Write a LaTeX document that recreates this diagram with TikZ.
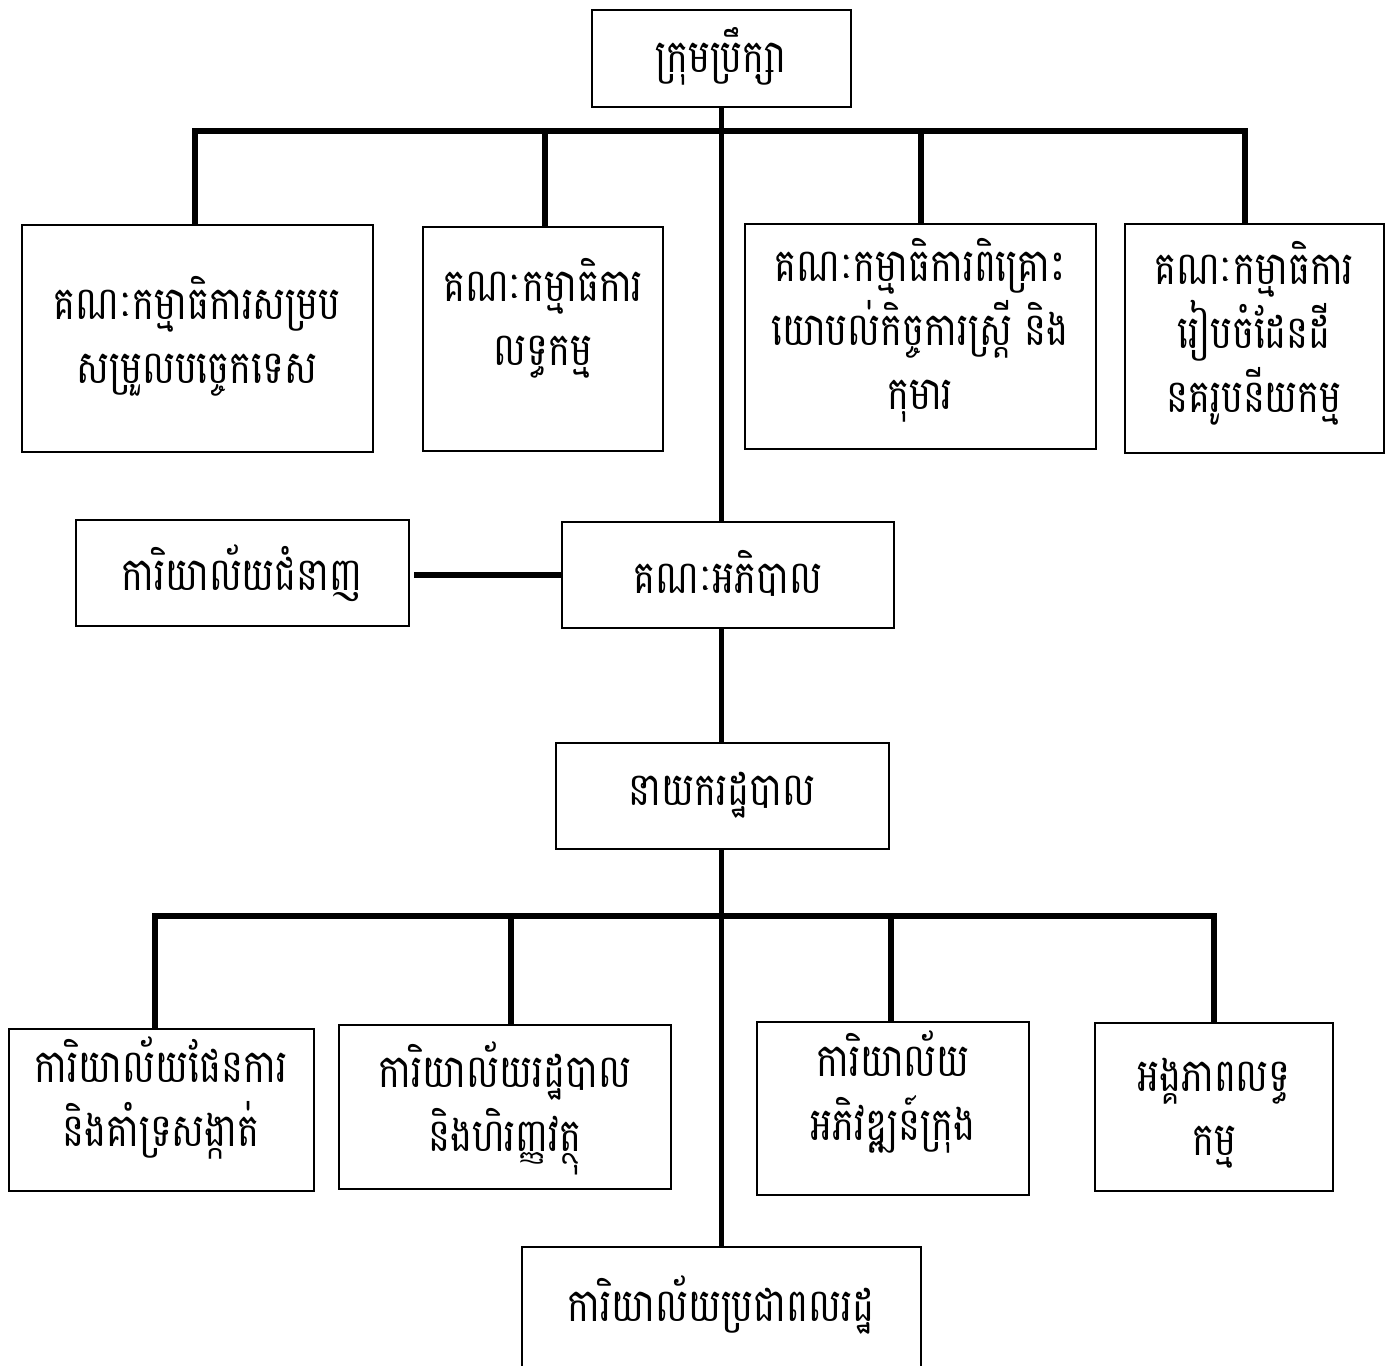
\documentclass[tikz,border=0pt]{standalone}
\usepackage{fontspec}
\newfontfamily\khmer[Script=Khmer,FakeStretch=0.8]{Battambang}
\begin{document}
\begin{tikzpicture}[x=1pt,y=-1pt,
  box/.style={draw=black,line width=1.5pt,rectangle,inner sep=0pt,fill=white},
  lbl/.style={font=\khmer\fontsize{46}{64}\selectfont,align=center,inner sep=0pt},
  conn/.style={draw=black,line width=5.5pt,line join=miter}]
\useasboundingbox (0,0) rectangle (1391,1365);
\clip (0,0) rectangle (1391,1365);
\fill[white] (0,0) rectangle (1391,1365);
\coordinate (tl) at (195,131);
\coordinate (tr) at (1245,131);
\coordinate (tb) at (545,131);
\coordinate (tc) at (921,131);
\coordinate (bl) at (155,916);
\coordinate (br) at (1214,916);
\coordinate (bb) at (511,916);
\coordinate (bc) at (891,916);
% boxes
\node[box,minimum width=259pt,minimum height=97pt] (top) at (721.5,58.5) {};
\node[box,minimum width=351pt,minimum height=227pt] (A) at (197.5,338.5) {};
\node[box,minimum width=240pt,minimum height=224pt] (B) at (543,339) {};
\node[box,minimum width=351pt,minimum height=225pt] (C) at (920.5,336.5) {};
\node[box,minimum width=259pt,minimum height=229pt] (D) at (1254.5,338.5) {};
\node[box,minimum width=333pt,minimum height=106pt] (exp) at (242.5,573) {};
\node[box,minimum width=332pt,minimum height=106pt] (gov) at (728,575) {};
\node[box,minimum width=333pt,minimum height=106pt] (adm) at (722.5,796) {};
\node[box,minimum width=305pt,minimum height=162pt] (E) at (161.5,1110) {};
\node[box,minimum width=332pt,minimum height=164pt] (F) at (505,1107) {};
\node[box,minimum width=272pt,minimum height=173pt] (G) at (893,1108.5) {};
\node[box,minimum width=238pt,minimum height=168pt] (H) at (1214,1107) {};
\node[box,minimum width=399pt,minimum height=153pt] (cit) at (721.5,1323.5) {};
% connectors
\draw[conn] (tl |- A.north) -- (tl) -- (tr) -- (tr |- D.north);
\draw[conn] (tb) -- (tb |- B.north);
\draw[conn] (tc) -- (tc |- C.north);
\draw[conn] (top.south) -- (top.south |- gov.north);
\draw[conn] (gov.west) -- (gov.west -| exp.east) [shorten >=4pt];
\draw[conn] (top.south |- gov.south) -- (top.south |- adm.north);
\draw[conn] (top.south |- adm.south) -- (top.south |- cit.north);
\draw[conn] (bl |- E.north) -- (bl) -- (br) -- (br |- H.north);
\draw[conn] (bb) -- (bb |- F.north);
\draw[conn] (bc) -- (bc |- G.north);
% labels
\node[lbl] (ttop) at (721,56) {ក្រុមប្រឹក្សា};
\node[lbl] (tA) at (197,336) {គណៈកម្មាធិការសម្រប\\សម្រួលបច្ចេកទេស};
\node[lbl] (tB) at (543,318) {គណៈកម្មាធិការ\\លទ្ធកម្ម};
\node[lbl] (tC) at (920,330) {គណៈកម្មាធិការពិគ្រោះ\\យោបល់កិច្ចការស្ត្រី និង\\កុមារ};
\node[lbl] (tD) at (1254,333) {គណៈកម្មាធិការ\\រៀបចំដែនដី\\នគរូបនីយកម្ម};
\node[lbl] (texp) at (242,573) {ការិយាល័យជំនាញ};
\node[lbl] (tgov) at (728,573) {គណៈអភិបាល};
\node[lbl] (tadm) at (722,795) {នាយករដ្ឋបាល};
\node[lbl] (tE) at (161,1098) {ការិយាល័យផែនការ\\និងគាំទ្រសង្កាត់};
\node[lbl] (tF) at (505,1108) {ការិយាល័យរដ្ឋបាល\\និងហិរញ្ញវត្ថុ};
\node[lbl] (tG) at (893,1092) {ការិយាល័យ\\អភិវឌ្ឍន៍ក្រុង};
\node[lbl] (tH) at (1214,1113) {អង្គភាពលទ្ធ\\កម្ម};
\node[lbl] (tcit) at (721,1305) {ការិយាល័យប្រជាពលរដ្ឋ};
\end{tikzpicture}
\end{document}
